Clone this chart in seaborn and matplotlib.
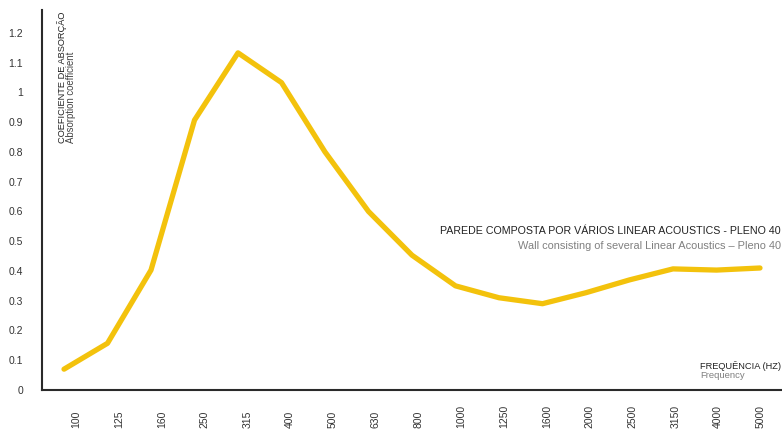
import numpy as np
import pandas as pd
import matplotlib
matplotlib.use("Agg")
import matplotlib.pyplot as plt
import seaborn as sns

# ---- data ----
freqs = ["100", "125", "160", "250", "315", "400", "500", "630", "800",
         "1000", "1250", "1600", "2000", "2500", "3150", "4000", "5000"]
alpha = [0.07, 0.157, 0.403, 0.907, 1.133, 1.033, 0.80, 0.60, 0.453,
         0.35, 0.31, 0.29, 0.327, 0.37, 0.407, 0.403, 0.41]
yticks = [0, 0.1, 0.2, 0.3, 0.4, 0.5, 0.6, 0.7, 0.8, 0.9, 1.0, 1.1, 1.2]
ytick_labels = ["0", "0.1", "0.2", "0.3", "0.4", "0.5", "0.6", "0.7", "0.8",
                "0.9", "1", "1.1", "1.2"]

title_pt = "PAREDE COMPOSTA POR VÁRIOS LINEAR ACOUSTICS - PLENO 40"
title_en = "Wall consisting of several Linear Acoustics – Pleno 40"
ylab_pt = "COEFICIENTE DE ABSORÇÃO"
ylab_en = "Absorption coefficient"
xlab_pt = "FREQUÊNCIA (HZ)"
xlab_en = "Frequency"

sns.set_theme(style="white")
plt.rcParams["font.family"] = ["Liberation Sans", "DejaVu Sans"]

W, H = 782, 434
fig = plt.figure(figsize=(W / 100, H / 100), dpi=100)
ax = fig.add_axes([42 / W, 44 / H, 740 / W, 380 / H])

df = pd.DataFrame({"pos": np.arange(len(freqs)), "alpha": alpha})
sns.lineplot(data=df, x="pos", y="alpha", ax=ax, color="#F3C20C",
             linewidth=3.8, solid_capstyle="round", solid_joinstyle="round")

ax.set_xlim(-0.506, 16.506)
ax.set_ylim(0.01, 1.277)

for s in ["top", "right"]:
    ax.spines[s].set_visible(False)
for s in ["left", "bottom"]:
    ax.spines[s].set_color("#2a2a2a")
    ax.spines[s].set_linewidth(1.5)

ax.set_yticks(yticks, ytick_labels)
ax.tick_params(axis="y", length=0, pad=13.7, labelsize=7.5, labelcolor="#333333")

xtick_pos = np.linspace(0.28, 16.02, len(freqs))
ax.set_xticks(xtick_pos, freqs)
ax.tick_params(axis="x", length=0, pad=27.4, labelsize=7.5, labelcolor="#333333",
               labelrotation=90)
for t in ax.get_xticklabels():
    t.set_va("bottom")

ax.set_xlabel("")
ax.set_ylabel("")
ax.grid(False)

# axis titles
fig.text(62 / W, 1 - 143 / H, ylab_pt, rotation=90, ha="center", va="bottom",
         fontsize=6.7, color="#222222")
fig.text(70.5 / W, 1 - 143 / H, ylab_en, rotation=90, ha="center", va="bottom",
         fontsize=6.9, color="#444444")
fig.text(781 / W, 1 - 366 / H, xlab_pt, ha="right", va="center",
         fontsize=6.7, color="#222222")
fig.text(700 / W, 1 - 376 / H, xlab_en, ha="left", va="center",
         fontsize=6.8, color="#808080")

# series title
fig.text(781 / W, 1 - 231 / H, title_pt, ha="right", va="center",
         fontsize=7.7, color="#222222")
fig.text(781 / W, 1 - 246 / H, title_en, ha="right", va="center",
         fontsize=7.95, color="#808080")

fig.savefig("out.png", dpi=100)
